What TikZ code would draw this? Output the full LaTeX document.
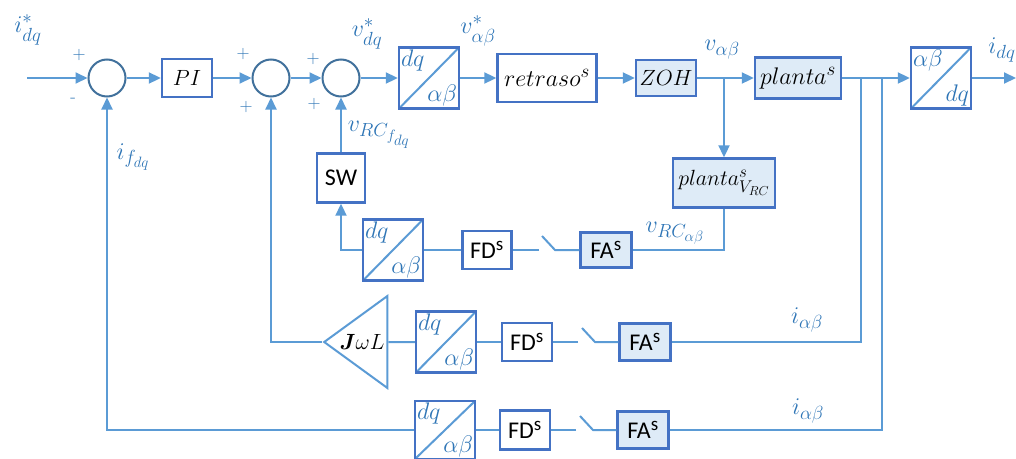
\RequirePackage{fix-cm}
\documentclass[tikz,border=0pt]{standalone}
\usepackage{amsmath}
\usepackage{fontspec}
\setsansfont{Carlito}
\usetikzlibrary{arrows.meta, positioning, shapes.geometric}

\DeclareMathSizes{22}{22}{17}{13}
\DeclareMathSizes{24}{24}{19}{15}

\definecolor{lineblue}{HTML}{5B9BD5}
\definecolor{frameblue}{HTML}{4472C4}
\definecolor{ringblue}{HTML}{41719C}
\definecolor{paleblue}{HTML}{DEEBF7}
\definecolor{inkblue}{HTML}{2E75B6}

\begin{document}
\begin{tikzpicture}[
    x=1pt, y=-1pt,
    >={Triangle[length=12pt,width=11pt]},
    font=\fontsize{22}{26}\selectfont,
    link/.style={draw=lineblue, line width=2pt},
    blk/.style={draw=frameblue, line width=2.4pt, fill=white, inner sep=2pt},
    sblk/.style={blk, fill=paleblue},
    big/.style={font=\fontsize{24}{28}\selectfont},
    sans/.style={font=\fontsize{24}{26}\selectfont\sffamily},
    sumpt/.style={circle, draw=ringblue, line width=2pt, minimum size=37pt,
                  inner sep=0pt},
    conv/.style={blk, minimum width=60pt, minimum height=61pt,
                 path picture={\draw[link]
                   (path picture bounding box.south west) --
                   (path picture bounding box.north east);}},
    gain/.style={isosceles triangle, isosceles triangle stretches,
                 shape border rotate=180, draw=lineblue, line width=2pt,
                 minimum width=92pt, minimum height=63pt, inner sep=0pt},
    tag/.style={text=inkblue, inner sep=3pt, font=\fontsize{24}{28}\selectfont},
    sgn/.style={text=inkblue, font=\fontsize{18}{20}\selectfont}
  ]
  \useasboundingbox (0,0) rectangle (1016,458);

  % forward path
  \coordinate (in) at (27,78);
  \node[sumpt] (s1) at (107,78) {};
  \node[blk, minimum width=50pt, minimum height=38pt] (pi) at (187,78) {$PI$};
  \node[sumpt] (s2) at (271,78) {};
  \node[sumpt] (s3) at (341,78) {};
  \node[conv] (c1) at (429,78) {};
  \node[blk, big, minimum width=99pt, minimum height=48pt] (dly) at (547,78) {$retraso^s$};
  \node[sblk, minimum width=60pt, minimum height=36pt] (zoh) at (666,78) {$ZOH$};
  \node[sblk, big, minimum width=86pt, minimum height=41pt] (plt) at (798,78) {$planta^s$};
  \node[conv] (c4) at (941,78) {};
  \coordinate (out) at (1016,78);
  \node[tag, anchor=north west] at (c1.north west) {$dq$};
  \node[tag, anchor=south east] at (c1.south east) {$\alpha\beta$};
  \node[tag, anchor=north west] at (c4.north west) {$\alpha\beta$};
  \node[tag, anchor=south east] at (c4.south east) {$dq$};

  \foreach \a/\b in {in/s1, s1/pi, pi/s2, s2/s3, s3/c1, c1/dly, dly/zoh,
                     zoh/plt, plt/c4, c4/out}
    \draw[link, ->] (\a) -- (\b);

  % repetitive controller branch
  \coordinate (tap1) at (724,78);
  \node[sblk, minimum width=102pt, minimum height=49pt] (vrc) at (724,183) {$planta^s_{V_{RC}}$};
  \node[sblk, sans, minimum width=51pt, minimum height=35pt] (fa1) at (606,250) {FA\textsuperscript{s}};
  \coordinate (k1a) at (555,250);
  \coordinate (k1b) at (542,236);
  \coordinate (k1c) at (539,250);
  \node[blk, sans, minimum width=49pt, minimum height=38pt] (fd1) at (487,250) {FD\textsuperscript{s}};
  \node[conv] (c2) at (393,250) {};
  \node[tag, anchor=north west] at (c2.north west) {$dq$};
  \node[tag, anchor=south east] at (c2.south east) {$\alpha\beta$};
  \node[blk, sans, minimum width=48pt, minimum height=49pt] (sw) at (341,178) {SW};

  \draw[link, ->] (tap1) -- (vrc);
  \draw[link] (vrc.south) |- (fa1.east);
  \draw[link] (fa1) -- (k1a) -- (k1b);
  \draw[link] (k1c) -- (fd1);
  \draw[link] (fd1) -- (c2);
  \draw[link, ->] (c2.west) -| (sw.south);
  \draw[link, ->] (sw) -- (s3);

  % decoupling branch
  \coordinate (tap2) at (861,78);
  \node[sblk, sans, minimum width=51pt, minimum height=37pt] (fa2) at (645,342) {FA\textsuperscript{s}};
  \coordinate (k2a) at (595,342);
  \coordinate (k2b) at (582,328);
  \coordinate (k2c) at (578,342);
  \node[blk, sans, minimum width=50pt, minimum height=38pt] (fd2) at (527,342) {FD\textsuperscript{s}};
  \node[conv] (c3) at (446,342) {};
  \node[tag, anchor=north west] at (c3.north west) {$dq$};
  \node[tag, anchor=south east] at (c3.south east) {$\alpha\beta$};
  \node[gain] (jwl) at (362,342) {$\boldsymbol{J}\omega L$};

  \draw[link] (tap2) |- (fa2);
  \draw[link] (fa2) -- (k2a) -- (k2b);
  \draw[link] (k2c) -- (fd2);
  \draw[link] (fd2) -- (c3);
  \draw[link] (c3) -- (jwl);
  \draw[link, ->] (jwl.apex) -| (s2);

  % current feedback
  \coordinate (tap3) at (882,78);
  \node[sblk, sans, minimum width=51pt, minimum height=37pt] (fa3) at (643,430) {FA\textsuperscript{s}};
  \coordinate (k3a) at (593,430);
  \coordinate (k3b) at (580,416);
  \coordinate (k3c) at (576,430);
  \node[blk, sans, minimum width=50pt, minimum height=39pt] (fd3) at (525,430) {FD\textsuperscript{s}};
  \node[conv, minimum height=58pt] (c5) at (445,430) {};
  \node[tag, anchor=north west] at (c5.north west) {$dq$};
  \node[tag, anchor=south east] at (c5.south east) {$\alpha\beta$};

  \draw[link] (tap3) |- (fa3);
  \draw[link] (fa3) -- (k3a) -- (k3b);
  \draw[link] (k3c) -- (fd3);
  \draw[link] (fd3) -- (c5);
  \draw[link, ->] (c5.west) -| (s1);

  % signal names and signs
  \node[tag] at (28,30) {$i^*_{dq}$};
  \node[tag] at (367,34) {$v^*_{dq}$};
  \node[tag] at (478,31) {$v^*_{\alpha\beta}$};
  \node[tag] at (722,50) {$v_{\alpha\beta}$};
  \node[tag] at (1002,50) {$i_{dq}$};
  \node[tag] at (379,135) {$v_{RC_{f_{dq}}}$};
  \node[tag] at (133,157) {$i_{f_{dq}}$};
  \node[tag] at (675,233) {$v_{RC_{\alpha\beta}}$};
  \node[tag] at (807,320) {$i_{\alpha\beta}$};
  \node[tag] at (808,411) {$i_{\alpha\beta}$};
  \node[sgn] at (79,55) {+};
  \node[sgn] at (73,100) {-};
  \node[sgn] at (243,54) {+};
  \node[sgn] at (246,107) {+};
  \node[sgn] at (313,59) {+};
  \node[sgn] at (314,104) {+};
\end{tikzpicture}
\end{document}
